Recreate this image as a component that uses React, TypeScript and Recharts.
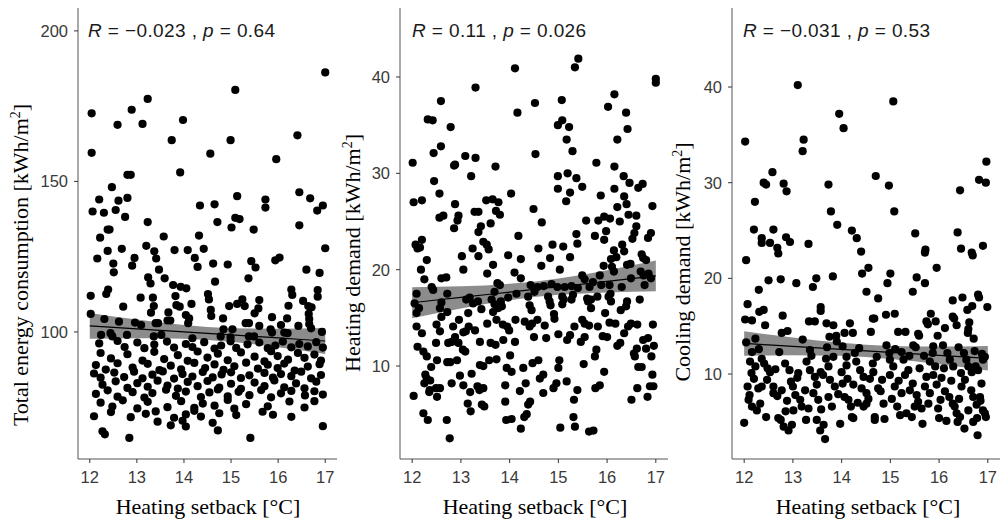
import { ComposedChart, Scatter, Line, Area, XAxis, YAxis } from "recharts";

// heating setback axis
const setbackTicks = [12, 13, 14, 15, 16, 17];
const fitX = [12, 12.5, 13, 13.5, 14, 14.5, 15, 15.5, 16, 16.5, 17];

// Total energy consumption [kWh/m2]
const energyTicks = [100, 150, 200];
const energyPoints: [number, number][] = [
  [17.0, 186.2], [15.09, 180.4], [13.23, 177.4], [12.89, 173.8], [12.04, 172.6], [13.98, 170.4], [12.59, 168.8], [13.12, 169.1],
  [13.74, 163.7], [14.99, 163.7], [16.41, 165.3], [12.04, 159.5], [14.56, 159.2], [15.96, 157.4], [12.8, 152.2], [12.87, 152.2],
  [13.92, 153], [12.47, 148.1], [12.2, 144], [12.61, 143.6], [12.8, 144.5], [15.13, 145.1], [15.73, 144], [16.45, 146.4],
  [16.68, 144.4], [12.06, 140], [12.3, 139.6], [12.55, 140.5], [12.75, 138.2], [14.34, 142], [14.65, 142.4], [15.73, 141.3],
  [16.83, 140.3], [16.95, 142], [13.23, 136.5], [14.71, 136.5], [15.09, 137.9], [15.18, 137.5], [16.45, 135.4], [12.38, 134],
  [12.42, 134], [12.22, 131.3], [13.57, 131.7], [14.32, 132], [15.01, 134.7], [15.48, 134], [13.2, 128.6], [13.37, 126.8],
  [12.68, 127.6], [12.38, 126.9], [13.8, 127.2], [14.08, 127.2], [14.42, 127.6], [17.0, 127.8],
  [12.16, 124.4], [13.41, 124.4], [12.95, 124.6], [12.9, 122], [12.5, 122.7], [12.51, 119.8], [13.47, 120.7], [14.23, 124.6],
  [14.29, 121.6], [14.62, 122.7], [14.93, 122.4], [15.43, 123.5], [15.52, 121.4], [15.94, 123.8], [16.03, 124.7], [16.6, 120.7],
  [16.88, 119.6], [13.24, 118.1], [13.29, 116.1], [13.59, 117.8], [14.66, 116.7], [15.37, 117.8], [13.77, 115.6], [13.93, 115],
  [14.05, 114.5], [12.39, 114.1], [12.35, 112.6], [12.02, 112], [13.08, 111.4], [13.34, 111.4], [13.82, 111.9], [14.51, 112.6],
  [14.53, 110.8], [16.28, 114.1], [16.3, 112.3], [16.84, 113.9], [16.84, 111.7], [12.71, 108.4], [13.36, 108.6], [13.84, 108.9],
  [13.91, 108.4], [14.16, 109.3], [14.96, 108.6], [15.13, 109.3], [15.24, 110.8], [15.29, 108.6], [15.6, 110.6], [15.58, 107.8],
  [16.22, 108.7], [16.53, 110.3], [16.64, 108.6], [16.71, 108.2], [12.02, 106], [13.3, 106.4], [13.67, 106.5], [14.04, 105.6],
  [14.57, 107.3], [14.58, 105.3], [14.11, 104.5], [14.83, 104.5], [15.5, 106.2], [15.87, 104.9], [16.19, 104.5], [16.65, 106],
  [16.66, 104.3], [12.31, 104.3], [12.62, 103.4], [12.96, 103.1], [13.09, 102.3], [13.4, 102.9], [13.45, 102.9], [13.65, 103.8],
  [13.71, 103.8], [14.09, 102.9], [15.31, 102.9], [15.38, 102.9], [15.6, 102], [16.06, 102.3], [16.43, 102], [16.66, 102.6],
  [16.7, 101.2], [14.84, 100.9], [15.03, 100.9], [15.84, 100.9], [15.87, 99.8], [16.13, 99.8], [16.2, 99.6], [16.93, 100],
  [12.24, 99], [12.44, 99.6], [12.48, 98.5], [12.79, 99], [13.36, 98.5], [13.52, 99], [14.18, 97.9], [14.78, 98.5],
  [14.99, 98.2], [15.38, 98.5], [15.49, 98.5],
  [12.2, 96.2], [12.59, 97.0], [12.74, 95.0], [13.01, 96.5], [13.16, 94.6], [13.37, 95.8], [13.64, 96.8], [13.79, 94.8],
  [14.04, 96.0], [14.18, 95.0], [14.43, 96.6], [14.65, 94.5], [14.79, 95.5], [14.99, 96.9], [15.11, 94.7], [15.35, 95.9],
  [15.6, 96.5], [15.78, 94.6], [15.94, 95.5], [16.1, 96.8], [16.28, 94.9], [16.45, 96.0], [16.63, 95.2], [16.81, 96.6],
  [16.95, 94.8],
  [12.23, 93.0], [12.45, 91.2], [12.8, 92.6], [13.12, 90.5], [13.37, 93.4], [13.58, 91.0], [13.87, 92.3], [14.08, 90.4],
  [14.29, 93.5], [14.5, 91.5], [14.72, 92.8], [14.93, 90.6], [15.21, 93.2], [15.5, 91.8], [15.71, 90.2], [15.85, 93.6],
  [15.99, 92.0], [16.21, 90.8], [16.42, 93.0], [16.56, 91.4], [16.77, 92.5], [16.91, 90.5],
  [12.13, 89.0], [12.34, 87.5], [12.59, 89.6], [12.91, 88.2], [13.23, 89.4], [13.48, 87.3], [13.72, 88.8], [13.94, 87.6],
  [14.22, 89.7], [14.45, 88.0], [14.65, 89.2], [14.84, 87.4], [15.07, 88.6], [15.32, 89.8], [15.57, 87.8], [15.78, 89.1],
  [15.99, 88.0], [16.13, 89.5], [16.35, 87.2], [16.63, 88.5], [16.88, 89.3],
  [12.09, 86.2], [12.23, 84.8], [12.52, 86.5], [12.73, 85.0], [12.94, 86.8], [13.12, 84.6], [13.33, 85.8], [13.55, 86.9],
  [13.79, 84.5], [13.97, 86.0], [14.18, 85.2], [14.4, 86.7], [14.61, 84.9], [14.8, 85.9], [15.0, 86.6], [15.21, 84.7],
  [15.39, 85.6], [15.71, 86.4], [15.89, 84.8], [16.06, 86.0], [16.28, 85.3], [16.49, 86.8], [16.7, 84.6], [16.91, 85.7],
  [12.27, 82.5], [12.55, 83.6], [12.8, 81.4], [13.01, 83.0], [13.23, 81.8], [13.44, 83.8], [13.65, 82.2], [13.87, 81.2],
  [14.08, 83.4], [14.29, 82.0], [14.5, 83.7], [14.75, 81.5], [15.0, 82.8], [15.21, 81.1], [15.5, 83.2], [15.71, 82.0],
  [15.92, 83.9], [16.13, 81.6], [16.38, 82.9], [16.56, 81.3], [16.81, 83.5],
  [12.13, 79.4], [12.38, 80.6], [12.59, 78.5], [12.91, 80.0], [13.16, 78.2], [13.33, 79.7], [13.62, 80.8], [13.83, 78.8],
  [14.04, 80.2], [14.36, 78.4], [14.54, 79.9], [14.72, 80.9], [14.93, 78.6], [15.16, 80.1], [15.39, 79.0], [15.64, 80.7],
  [15.85, 78.3], [16.06, 79.6], [16.28, 80.4], [16.57, 78.9], [16.77, 80.3], [16.95, 79.2],
  [12.23, 76.5], [12.48, 75.2], [12.7, 77.3], [13.01, 74.6], [13.23, 76.8], [13.65, 75.0], [13.94, 77.0], [14.22, 74.8],
  [14.4, 76.2], [14.65, 75.5], [14.93, 77.4], [15.07, 74.5], [15.32, 76.0], [15.78, 75.3], [16.24, 76.9], [16.56, 74.9],
  [16.77, 77.0],
  [12.09, 72.0], [12.45, 73.4], [12.87, 71.7], [13.19, 72.8], [13.4, 73.6], [13.79, 71.5], [14.04, 72.6], [14.22, 73.8],
  [14.36, 71.9], [14.75, 73.0], [15.11, 72.4], [15.67, 73.5], [15.89, 72.5], [16.28, 71.8],
  [13.44, 70.2], [13.72, 69.0], [13.97, 70.5], [14.04, 68.6], [14.61, 69.8], [16.95, 68.7],
  [12.27, 67.0], [12.32, 66.0], [12.84, 64.8], [14.72, 67.3], [15.41, 64.8],
];
const energyFit = [102, 101.5, 101, 100.5, 100, 99.5, 99, 98.5, 98, 97.5, 97];
const energyLow = [97.7, 97.83, 97.9, 97.89, 97.73, 97.35, 96.73, 95.89, 94.9, 93.83, 92.7];
const energyHigh = [106.3, 105.17, 104.1, 103.11, 102.27, 101.65, 101.27, 101.11, 101.1, 101.17, 101.3];

// Heating demand [kWh/m2]
const demandTicks = [10, 20, 30, 40];
const heatingPoints: [number, number][] = [
  [14.11, 40.9], [15.41, 41.9], [15.34, 41.0], [17.0, 39.8], [17.0, 39.4], [13.3, 38.9], [12.59, 37.5], [14.52, 37.3],
  [15.07, 37.6], [14.16, 36.3], [16.15, 38.2], [16.02, 36.9], [16.39, 36.3], [16.42, 34.6], [16.21, 33.5], [12.32, 35.6],
  [12.42, 35.5], [12.79, 34.8], [14.99, 35.0], [15.08, 35.5], [15.22, 34.8], [15.17, 33.5], [15.29, 32.3], [12.59, 32.8],
  [12.44, 32.1], [13.09, 31.8], [13.3, 31.6], [14.53, 32.0], [12.01, 31.1], [12.88, 30.9], [12.86, 30.8], [12.45, 29.2],
  [13.21, 29.7], [13.71, 30.7], [15.78, 31.1], [16.15, 30.7], [14.99, 29.7], [15.19, 30.0], [15.37, 29.5], [16.34, 29.7],
  [16.46, 29.0], [16.73, 28.9], [14.99, 28.4], [15.49, 28.6], [16.15, 28.4], [16.64, 28.5], [12.03, 27.0], [12.2, 27.2],
  [12.56, 27.9], [14.03, 27.9], [15.24, 28.0], [15.16, 27.1], [15.87, 27.7], [16.35, 27.6], [13.52, 27.2], [13.65, 27.3],
  [13.77, 27.0], [14.49, 26.3], [12.88, 26.8], [16.93, 26.6], [16.4, 26.8], [16.21, 26.5], [13.28, 26.0], [13.36, 26.0],
  [13.72, 26.1], [13.8, 25.7], [16.44, 25.7], [16.6, 25.6], [12.56, 25.4], [12.64, 25.6], [12.95, 25.6], [12.93, 25.1],
  [12.86, 24.3], [13.41, 24.5], [14.66, 24.9], [15.57, 25.1], [15.82, 25.1], [15.94, 25.5], [16.06, 25.3], [16.26, 25.0],
  [13.36, 23.9], [13.61, 24.8], [15.98, 24.0], [16.6, 24.5], [16.56, 23.8], [12.07, 22.6], [12.11, 22.2], [12.2, 23.1],
  [12.16, 22.3], [13.24, 22.2], [13.46, 22.9], [13.53, 22.6], [13.57, 22.1], [14.18, 23.5], [14.59, 22.2], [14.88, 22.6],
  [15.1, 22.4], [15.37, 23.7], [15.39, 22.7], [15.75, 23.5], [15.94, 23.1], [16.14, 22.0], [16.31, 22.6], [16.35, 21.9],
  [16.52, 23.2], [16.84, 23.3], [16.9, 23.8], [16.71, 21.6], [12.3, 21.0], [13.02, 21.4], [13.36, 21.4], [13.97, 21.5],
  [14.23, 21.1], [14.83, 21.2], [15.24, 21.3], [16.19, 21.3], [16.74, 21.2],
  [12.18, 20.0], [13.66, 20.5], [13.75, 18.6], [14.1, 19.7], [14.23, 19.1], [14.65, 20.4], [15.03, 20.0], [15.49, 19.4],
  [15.54, 19.0], [15.71, 18.7], [15.85, 19.4], [15.93, 20.4], [16.08, 21.1], [16.1, 20.3], [16.14, 19.8], [16.41, 20.5],
  [16.48, 20.6], [16.8, 21.0], [16.69, 19.8], [16.75, 19.4], [16.85, 19.6], [16.9, 19.1], [16.77, 18.4], [12.6, 19.1],
  [12.7, 19.2], [12.25, 19.0], [12.4, 18.2], [12.43, 17.9], [13.05, 20.0], [13.54, 19.6], [13.8, 18.4], [14.43, 18.4],
  [14.57, 18.2], [14.7, 18.3], [14.86, 18.5], [14.98, 18.2], [15.13, 18.2], [15.27, 18.3], [15.4, 18.1], [15.64, 18.2],
  [15.88, 18.4], [16.05, 18.4], [16.3, 18.2], [16.49, 19.1], [12.09, 17.5], [12.72, 17.5], [13.18, 17.1], [13.69, 17.7],
  [14.14, 17.5], [13.35, 16.7], [13.63, 16.9], [13.97, 17.1], [14.38, 17.2], [14.51, 17.7], [14.79, 17.2], [15.08, 17.2],
  [15.3, 17.4], [15.8, 17.2], [16.07, 17.5], [15.67, 16.9], [12.05, 16.5], [12.14, 16.0], [12.09, 15.5], [12.6, 16.6],
  [12.57, 16.0], [13.11, 16.9], [13.25, 16.5], [13.69, 16.4], [13.76, 16.0], [13.82, 16.7], [14.41, 16.3], [14.82, 16.7],
  [14.84, 16.3], [15.11, 16.9], [15.08, 16.4], [15.27, 16.9], [15.59, 17.0], [15.61, 16.7], [16.03, 17.2], [16.08, 16.7],
  [16.41, 16.7], [16.39, 16.2], [16.67, 16.9], [12.72, 15.6], [13.15, 15.5], [13.42, 15.9], [13.66, 15.6], [13.84, 16.2],
  [14.45, 15.8], [14.91, 15.4], [15.67, 16.0], [15.96, 15.5], [16.28, 15.8], [12.6, 15.1], [12.96, 14.8], [13.73, 14.8],
  [13.86, 14.3], [14.12, 14.8], [14.31, 14.6], [14.46, 14.4], [14.57, 14.8], [14.92, 14.9], [15.49, 14.8], [15.54, 14.4],
  [16.05, 14.5], [16.17, 14.4], [16.49, 14.4], [16.62, 14.3], [16.94, 14.3], [12.09, 14.1], [12.5, 14.3], [12.84, 14.1],
  [13.16, 14.1], [13.54, 14.4], [13.95, 14.1], [14.41, 14.1], [14.72, 14.2], [15.33, 14.1], [15.63, 14.2], [15.81, 14.1],
  [16.43, 14.1],
  [12.11, 12.0], [12.23, 11.5], [12.3, 11.0], [12.49, 12.4], [12.57, 13.6], [12.81, 12.5], [12.74, 12.4], [12.95, 12.4],
  [12.88, 13.0], [13.05, 13.5], [13.1, 13.6], [13.04, 11.7], [13.09, 11.5], [12.92, 10.6], [12.72, 10.4], [12.78, 10.4],
  [12.51, 10.6], [12.39, 9.9], [12.27, 9.1], [12.3, 8.7], [12.37, 8.5], [12.03, 6.9], [12.25, 8.2], [12.36, 7.5],
  [12.35, 7.3], [12.49, 7.7], [12.57, 7.7], [12.51, 6.8], [12.23, 5.1], [12.32, 4.4], [12.71, 4.4], [12.77, 2.5],
  [12.81, 8.2], [12.98, 9.0], [13.05, 8.0], [13.14, 6.1], [13.19, 7.3], [13.2, 5.3], [13.22, 9.2], [13.29, 13.7],
  [13.39, 10.1], [13.46, 10.0], [13.34, 7.9], [13.38, 7.5], [13.46, 7.7], [13.43, 6.0], [13.48, 5.8], [13.39, 12.5],
  [13.58, 10.6], [13.73, 10.7], [13.61, 12.4], [13.71, 12.2], [13.87, 12.7], [13.91, 8.0], [13.91, 6.3], [13.93, 4.4],
  [14.04, 4.5], [13.94, 9.8], [14.04, 9.4], [14.01, 11.1], [13.99, 13.7], [14.11, 12.5], [14.21, 7.4], [14.23, 3.5],
  [14.28, 9.8], [14.3, 4.7], [14.35, 5.0], [14.38, 6.0], [14.42, 6.3], [14.33, 8.2], [14.47, 10.3], [14.59, 10.6],
  [14.62, 8.7], [14.69, 9.1], [14.69, 7.2], [14.9, 7.7], [14.96, 8.2], [15.0, 9.8], [15.02, 10.6], [15.04, 3.6],
  [15.17, 8.4], [15.18, 12.7], [15.24, 13.2], [15.31, 4.7], [15.32, 6.5], [15.34, 3.7], [15.39, 7.5], [15.46, 12.5],
  [15.52, 10.2], [15.54, 13.0], [15.63, 3.2], [15.72, 3.3], [15.75, 11.0], [15.78, 11.7], [15.85, 8.0], [15.76, 7.7],
  [15.91, 13.1], [15.94, 9.4], [16.21, 12.1], [16.27, 12.4], [16.5, 6.5], [16.55, 11.3], [16.57, 11.0], [16.61, 11.8],
  [16.64, 9.9], [16.71, 9.9], [16.74, 12.7], [16.84, 12.9], [16.62, 7.7], [16.8, 11.8], [16.83, 6.8], [16.88, 7.9],
  [16.95, 7.9], [16.91, 11.0], [16.93, 9.1], [16.96, 12.1], [14.5, 13.0], [14.75, 12.9], [15.0, 13.3], [16.0, 13.0],
  [16.35, 13.4], [12.2, 13.4],
];
const heatingFit = [16.57, 16.85, 17.13, 17.4, 17.68, 17.96, 18.24, 18.51, 18.79, 19.07, 19.35];
const heatingLow = [14.97, 15.48, 15.98, 16.43, 16.83, 17.16, 17.39, 17.54, 17.64, 17.7, 17.75];
const heatingHigh = [18.17, 18.22, 18.28, 18.37, 18.53, 18.76, 19.09, 19.48, 19.94, 20.44, 20.95];

// Cooling demand [kWh/m2]
const coolingPoints: [number, number][] = [
  [13.1, 40.2], [15.06, 38.5], [13.95, 37.2], [14.04, 35.7], [12.02, 34.3], [13.22, 34.5], [13.2, 33.3], [16.97, 32.2],
  [12.58, 31.1], [14.7, 30.7], [12.4, 30.0], [12.45, 29.8], [12.81, 29.9], [12.87, 29.1], [13.73, 29.8], [14.97, 29.7],
  [16.43, 29.2], [16.82, 30.3], [16.96, 30.0], [12.22, 28.0], [13.78, 27.0], [15.08, 27.0], [12.2, 25.1], [12.6, 25.1],
  [13.91, 25.6], [14.21, 25.0], [14.31, 24.2], [14.4, 22.8], [12.36, 24.2], [12.36, 23.7], [12.53, 23.7], [12.68, 23.2],
  [12.7, 22.6], [12.86, 24.3], [12.94, 23.8], [13.32, 23.6], [15.51, 24.7], [15.72, 23.0], [15.71, 22.7], [16.38, 24.8],
  [16.45, 23.1], [16.67, 22.7], [16.69, 22.4], [16.9, 23.4], [12.04, 21.9],
  [12.5, 19.8], [12.75, 19.9], [13.07, 19.5], [13.48, 20.0], [13.41, 19.1], [13.82, 20.2], [14.42, 20.5], [14.55, 21.1],
  [15.0, 20.5], [14.94, 19.5], [15.54, 20.1], [15.71, 19.5], [15.46, 18.6], [15.95, 21.1], [14.51, 18.6], [14.75, 17.9],
  [12.3, 18.8], [12.07, 17.3], [12.31, 16.5], [12.4, 16.7], [12.79, 16.1], [12.43, 15.1], [12.02, 15.7], [12.16, 15.6],
  [13.33, 15.5], [13.45, 15.5], [13.57, 17.0], [13.57, 16.6], [13.69, 15.3], [13.83, 15.1], [14.17, 15.3], [14.64, 15.8],
  [14.67, 15.8], [14.91, 16.2], [15.09, 16.3], [15.83, 16.3], [15.74, 15.5], [15.77, 15.2], [15.93, 15.5], [16.28, 17.7],
  [16.48, 18.0], [16.8, 18.3], [16.82, 18.0], [16.58, 16.7], [16.68, 17.1], [16.99, 17.0], [16.28, 16.0], [16.31, 15.8],
  [16.36, 15.1], [16.62, 15.4], [12.77, 14.3], [12.89, 14.5], [14.06, 14.3], [14.23, 14.3], [14.6, 14.4], [15.16, 14.4],
  [15.31, 14.4], [15.57, 14.2], [15.59, 14.0], [16.12, 14.8], [16.6, 14.7], [16.59, 14.3], [15.97, 14.0], [16.71, 13.7],
  [12.23, 13.7], [13.2, 13.6], [13.75, 13.9], [13.89, 14.0],
  [12.04, 13.3], [12.16, 12.3], [12.12, 11.3], [12.07, 8.7], [12.11, 7.8], [12.09, 7.3], [12.16, 6.6], [12.0, 4.9],
  [12.26, 6.2], [12.33, 6.9], [12.2, 9.5], [12.23, 10.8], [12.36, 11.6], [12.41, 11.1], [12.48, 10.6], [12.53, 10.2],
  [12.29, 8.5], [12.36, 8.7], [12.45, 5.5], [12.6, 8.7], [12.6, 8.0], [12.68, 7.7], [12.77, 8.3], [12.7, 5.4],
  [12.75, 5.2], [12.81, 4.5], [12.91, 4.1], [12.72, 12.3], [12.84, 11.1], [12.93, 10.4], [12.96, 9.2], [13.0, 8.7],
  [13.05, 7.8], [13.01, 6.2], [12.98, 4.7], [13.15, 7.3], [13.18, 6.6], [13.11, 10.1], [13.28, 11.3], [13.35, 10.4],
  [13.27, 5.2], [13.32, 6.4], [13.45, 9.7], [13.49, 8.9], [13.57, 10.2], [13.42, 8.0], [13.52, 7.3], [13.49, 5.2],
  [13.63, 4.7], [13.56, 4.1], [13.66, 3.2], [13.68, 11.6], [13.73, 10.8], [13.83, 11.8], [13.76, 9.4], [13.86, 8.7],
  [13.73, 7.6], [13.8, 6.6], [13.97, 4.8], [13.9, 13.4], [14.02, 12.9], [14.0, 10.2], [14.02, 9.0], [14.06, 7.6],
  [14.14, 7.3], [14.19, 6.6], [14.24, 5.4], [14.21, 5.5], [14.24, 8.9], [14.27, 12.2], [14.3, 11.3], [14.38, 10.4],
  [14.45, 9.7], [14.41, 8.5], [14.51, 8.0], [14.51, 6.9], [14.45, 6.6], [14.58, 9.5], [14.64, 11.1], [14.65, 10.2],
  [14.68, 5.2], [14.68, 5.5], [14.75, 8.5], [14.8, 8.2], [14.86, 6.9], [14.92, 13.0], [14.98, 12.2], [14.99, 11.5],
  [14.99, 9.9], [15.06, 10.8], [15.09, 8.7], [15.14, 6.6], [15.23, 12.3], [15.27, 11.5], [15.3, 9.9], [15.37, 10.4],
  [15.23, 8.0], [15.33, 5.9], [15.44, 5.5], [15.47, 13.0], [15.52, 12.8], [15.46, 9.0], [15.54, 7.8], [15.57, 7.1],
  [15.64, 6.4], [15.66, 4.8], [15.71, 8.7], [15.74, 9.7], [15.81, 11.3], [15.88, 9.9], [15.88, 12.9], [15.87, 12.2],
  [15.81, 8.0], [15.95, 8.9], [15.98, 6.4], [16.03, 7.3], [16.0, 5.4], [16.08, 13.0], [16.17, 12.2], [16.12, 8.2],
  [16.21, 7.6], [16.22, 11.5], [16.29, 10.8], [16.28, 6.9], [16.32, 6.6], [16.36, 5.9], [16.43, 5.5], [16.38, 5.0],
  [16.45, 10.1], [16.46, 8.7], [16.51, 12.2], [16.56, 11.5], [16.6, 10.8], [16.67, 10.2], [16.52, 4.3], [16.6, 6.2],
  [16.7, 5.0], [16.78, 5.4], [16.75, 10.8], [16.8, 10.4], [16.77, 6.8], [16.84, 7.6], [16.85, 7.2], [16.79, 3.6],
  [16.87, 9.0], [16.9, 11.5], [16.94, 11.8], [16.9, 6.2], [16.94, 5.9], [16.96, 5.5],
  [12.47, 9.4], [12.64, 10.5], [12.88, 7.2], [13.09, 9.6], [13.25, 8.3], [13.38, 11.9], [13.62, 9.9], [13.58, 6.3],
  [13.93, 7.9], [14.1, 10.9], [14.12, 9.5], [14.33, 7.0], [14.36, 12.7], [14.55, 7.4], [14.72, 11.8], [14.83, 9.4],
  [14.88, 5.3], [15.03, 7.4], [15.1, 12.6], [15.17, 9.3], [15.2, 5.7], [15.4, 8.3], [15.39, 11.9], [15.6, 10.6],
  [15.69, 11.9], [15.78, 6.9], [15.92, 10.8], [16.05, 9.6], [16.1, 10.6], [16.15, 5.1], [16.25, 9.3], [16.4, 12.8],
  [16.41, 7.4], [16.53, 9.4], [16.66, 8.3], [16.73, 12.4], [16.88, 12.1], [12.15, 10.1], [12.3, 12.6], [12.85, 6.1],
  [13.35, 12.5], [13.7, 12.8], [14.1, 11.8], [15.5, 6.6], [16.7, 7.6],
];
const coolingFit = [13.2, 13.04, 12.89, 12.73, 12.58, 12.42, 12.26, 12.11, 11.95, 11.8, 11.64];
const coolingLow = [11.92, 11.95, 11.97, 11.95, 11.9, 11.78, 11.58, 11.33, 11.03, 10.71, 10.36];
const coolingHigh = [14.48, 14.13, 13.81, 13.51, 13.26, 13.06, 12.94, 12.89, 12.87, 12.89, 12.92];

const SANS = "'Liberation Sans', Arial, sans-serif";
const SERIF = "'Liberation Serif', 'Times New Roman', serif";

interface PanelProps {
  left: number;
  width: number;
  marginLeft: number;
  points: [number, number][];
  fit: number[];
  low: number[];
  high: number[];
  yDomain: [number, number];
  yTicks: number[];
}

const Dot = (props: any) => <circle cx={props.cx} cy={props.cy} r={4.1} fill="#000" />;

function Panel({ left, width, marginLeft, points, fit, low, high, yDomain, yTicks }: PanelProps) {
  const pts = points.map(([x, y]) => ({ x, y }));
  const band = fitX.map((x, i) => ({ x, y: fit[i], band: [low[i], high[i]] }));
  return (
    <div style={{ position: "absolute", left, top: 0 }}>
      <ComposedChart
        width={width}
        height={521}
        margin={{ top: 8, right: 2, bottom: 0, left: marginLeft }}
      >
        <XAxis
          type="number"
          dataKey="x"
          domain={[11.75, 17.25]}
          ticks={setbackTicks}
          interval={0}
          allowDataOverflow
          height={62}
          tickSize={4}
          tickMargin={8}
          stroke="#555"
          tickLine={{ stroke: "#333" }}
          tick={{ fill: "#3a3a3a", fontSize: 16.5, fontFamily: SANS }}
        />
        <YAxis
          type="number"
          domain={yDomain}
          ticks={yTicks}
          interval={0}
          allowDataOverflow
          width={60}
          tickSize={4}
          tickMargin={6}
          stroke="#555"
          tickLine={{ stroke: "#333" }}
          tick={{ fill: "#3a3a3a", fontSize: 16.5, fontFamily: SANS }}
        />
        <Area
          data={band}
          dataKey="band"
          type="linear"
          fill="#8c8c8c"
          fillOpacity={1}
          stroke="none"
          isAnimationActive={false}
        />
        <Scatter data={pts} dataKey="y" shape={Dot} isAnimationActive={false} />
        <Line
          data={band}
          dataKey="y"
          type="linear"
          stroke="#000"
          strokeWidth={1.2}
          dot={false}
          activeDot={false}
          isAnimationActive={false}
        />
      </ComposedChart>
    </div>
  );
}

function Stat({ x, r, p }: { x: number; r: string; p: string }) {
  return (
    <text x={x} y={37} fontFamily={SANS} fontSize={19} fill="#1a1a1a" letterSpacing={0.4}>
      <tspan fontStyle="italic">R</tspan>
      {` = ${r} , `}
      <tspan fontStyle="italic">p</tspan>
      {` = ${p}`}
    </text>
  );
}

function YTitle({ x, y, children }: { x: number; y: number; children: React.ReactNode }) {
  return (
    <text x={x} y={y} transform={`rotate(-90, ${x}, ${y})`} textAnchor="middle" fontFamily={SERIF} fontSize={22} fill="#000">
      {children}
    </text>
  );
}

function XTitle({ x }: { x: number }) {
  return (
    <text x={x} y={514} textAnchor="middle" fontFamily={SERIF} fontSize={22} fill="#000">
      Heating setback [°C]
    </text>
  );
}

export default function App() {
  return (
    <div style={{ position: "absolute", left: 0, top: 0, width: 1002, height: 521, background: "#fff" }}>
      <Panel left={0} width={339} marginLeft={18} points={energyPoints} fit={energyFit} low={energyLow} high={energyHigh} yDomain={[57.8, 207.6]} yTicks={energyTicks} />
      <Panel left={330} width={340} marginLeft={10} points={heatingPoints} fit={heatingFit} low={heatingLow} high={heatingHigh} yDomain={[0.35, 47.16]} yTicks={demandTicks} />
      <Panel left={670} width={332} marginLeft={2} points={coolingPoints} fit={coolingFit} low={coolingLow} high={coolingHigh} yDomain={[1.12, 48.26]} yTicks={demandTicks} />
      <svg width={1002} height={521} style={{ position: "absolute", left: 0, top: 0, pointerEvents: "none" }}>
        <Stat x={88} r="−0.023" p="0.64" />
        <Stat x={412} r="0.11" p="0.026" />
        <Stat x={743} r="−0.031" p="0.53" />
        <YTitle x={28} y={265}>
          Total energy consumption [kWh/m<tspan dy={-8} fontSize={14}>2</tspan><tspan dy={8}>]</tspan>
        </YTitle>
        <YTitle x={360} y={253}>
          Heating demand [kWh/m<tspan dy={-8} fontSize={14}>2</tspan><tspan dy={8}>]</tspan>
        </YTitle>
        <YTitle x={690} y={262}>
          Cooling demand [kWh/m<tspan dy={-8} fontSize={14}>2</tspan><tspan dy={8}>]</tspan>
        </YTitle>
        <XTitle x={208} />
        <XTitle x={535} />
        <XTitle x={868} />
      </svg>
    </div>
  );
}
